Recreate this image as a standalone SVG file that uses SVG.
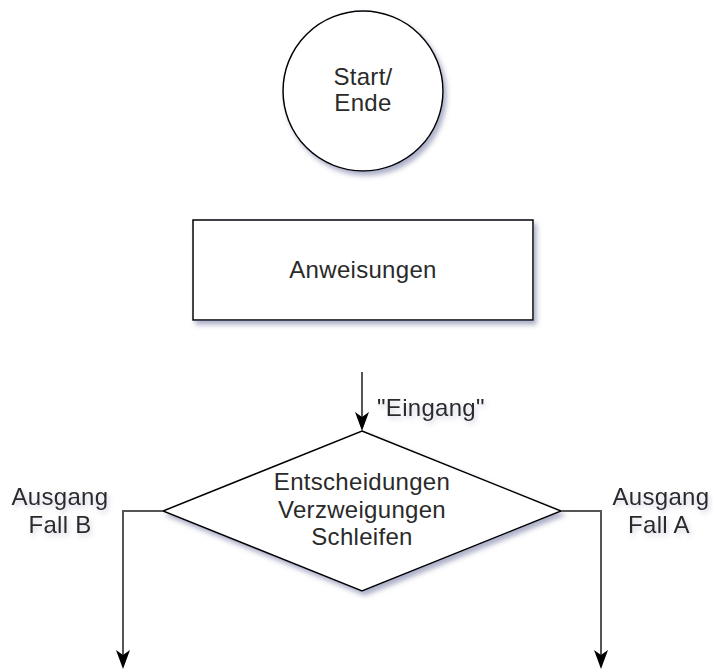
<svg xmlns="http://www.w3.org/2000/svg" width="713" height="672" viewBox="0 0 713 672">
<defs>
<filter id="sh" x="-20%" y="-20%" width="150%" height="150%">
<feGaussianBlur in="SourceAlpha" stdDeviation="2.5"/>
<feOffset dx="3" dy="4" result="b"/>
<feFlood flood-color="#6a6f9a" flood-opacity="0.55"/>
<feComposite in2="b" operator="in" result="s"/>
<feMerge><feMergeNode in="s"/><feMergeNode in="SourceGraphic"/></feMerge>
</filter>
<filter id="tsh" x="-20%" y="-40%" width="140%" height="180%">
<feGaussianBlur in="SourceAlpha" stdDeviation="2.5"/>
<feOffset dx="2" dy="3" result="b"/>
<feFlood flood-color="#7a7fa8" flood-opacity="0.35"/>
<feComposite in2="b" operator="in" result="s"/>
<feMerge><feMergeNode in="s"/><feMergeNode in="SourceGraphic"/></feMerge>
</filter>
</defs>
<style>
.shape{fill:#fff;stroke:#000;stroke-width:1.5}
.lbl{font-family:"Liberation Sans",Arial,sans-serif;font-size:24px;letter-spacing:0.3px;fill:#2a2a2a;text-anchor:middle}
.conn{fill:none;stroke:#555;stroke-width:2}
.head{fill:#000}
</style>
<rect width="713" height="672" fill="#fff"/>
<g id="start">
<circle class="shape" cx="363" cy="91" r="80" filter="url(#sh)"/>
<text class="lbl" x="363" y="85">Start/</text>
<text class="lbl" x="363" y="111">Ende</text>
</g>
<g id="anweisungen">
<rect class="shape" x="193" y="220" width="340" height="100" filter="url(#sh)"/>
<text class="lbl" x="363" y="278">Anweisungen</text>
</g>
<g id="entscheidung">
<polygon class="shape" points="362,431 561,511 362,591 163,511" filter="url(#sh)"/>
<text class="lbl" x="362" y="490">Entscheidungen</text>
<text class="lbl" x="362" y="518">Verzweigungen</text>
<text class="lbl" x="362" y="545">Schleifen</text>
</g>
<g id="connectors">
<path class="conn" d="M362,372 L362,418"/>
<path class="head" d="M355,412 L362,417 L369,412 L362,431 Z"/>
<path class="conn" d="M163,511 L123,511 L123,655"/>
<path class="head" d="M116,650 L123,655 L130,650 L123,669 Z"/>
<path class="conn" d="M561,511 L601,511 L601,655"/>
<path class="head" d="M594,650 L601,655 L608,650 L601,669 Z"/>
</g>
<g id="labels" filter="url(#tsh)">
<text class="lbl" x="377" y="416" style="text-anchor:start">"Eingang"</text>
<text class="lbl" x="60" y="505">Ausgang</text>
<text class="lbl" x="60" y="533">Fall B</text>
<text class="lbl" x="661" y="505">Ausgang</text>
<text class="lbl" x="659" y="533">Fall A</text>
</g>
</svg>
